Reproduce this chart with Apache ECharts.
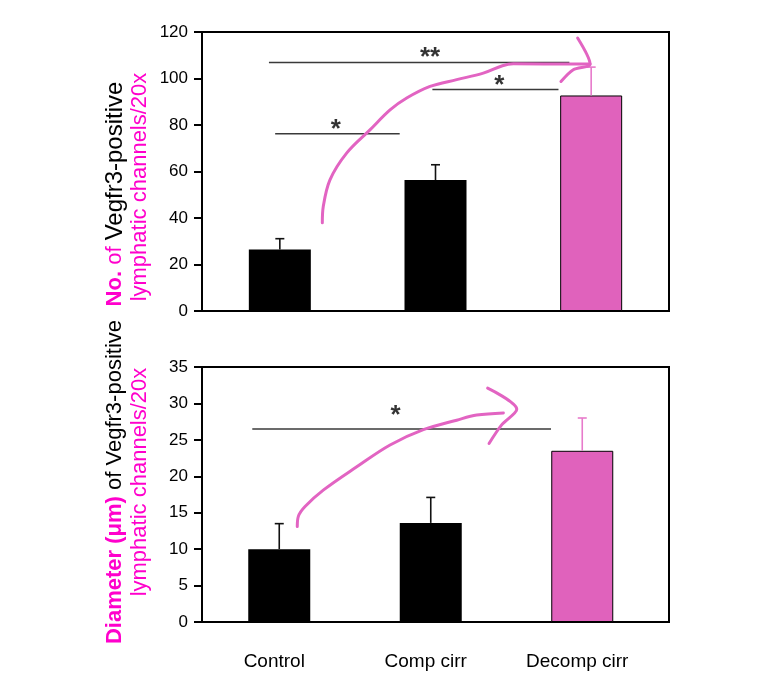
<!DOCTYPE html>
<html>
<head>
<meta charset="utf-8">
<script src="https://cdn.jsdelivr.net/npm/echarts@6/dist/echarts.min.js"></script>
<style>html,body{margin:0;padding:0;background:#fff}#c{width:771px;height:696px}</style>
</head>
<body>
<div id="c"></div>
<script>
// ---- data ----
const categories = ['Control', 'Comp cirr', 'Decomp cirr'];
const countMeans = [26.5, 56.3, 92.7];
const countErrors = [4.6, 6.6, 12.2];
const diameterMeans = [10.0, 13.6, 23.5];
const diameterErrors = [3.5, 3.5, 4.5];
const countTicks = [0, 20, 40, 60, 80, 100, 120];
const diameterTicks = [0, 5, 10, 15, 20, 25, 30, 35];

// significance annotations (annotation space: x 0..3 across the panel, y in axis units)
const countSigLevels = [106.9, 76.2, 95.3];
const countSigSpans = [[0.43, 2.36], [0.47, 1.27], [1.48, 2.29]];
const countSigMarks = ['**', '*', '*'];
const countSigMarkX = [1.465, 0.86, 1.91];
const countSigMarkY = [111.6, 80.5, 99.5];
const diameterSigLevels = [26.5];
const diameterSigSpans = [[0.323, 2.242]];
const diameterSigMarks = ['*'];
const diameterSigMarkX = [1.244];
const diameterSigMarkY = [29.1];

// hand-drawn trend arrows (annotation space)
const countTrendCurve = [[0.773, 38.0], [0.779, 44.9], [0.822, 56.4], [0.929, 67.9], [1.079, 77.9], [1.208, 86.5], [1.315, 91.6], [1.465, 96.6], [1.636, 99.5], [1.807, 102.3], [1.93, 105.5], [2.0, 106.3], [2.493, 106.2]];
const countTrendHead = [[2.413, 117.4], [2.493, 106.2], [2.385, 103.8], [2.306, 98.7]];
const diameterTrendCurve = [[0.612, 13.1], [0.619, 14.5], [0.662, 15.85], [0.779, 18.1], [0.994, 21.3], [1.208, 24.3], [1.422, 26.4], [1.636, 27.7], [1.765, 28.4], [1.936, 28.7]];
const diameterTrendHead = [[1.835, 32.1], [2.022, 29.2], [1.925, 27.05], [1.844, 24.5]];

// ---- styles ----
const FONT = 'Liberation Sans, Arial, sans-serif';
const MAGENTA = '#FF00CC';
const PINK = '#E062BC';
const ARROW = '#E264C2';
const barFills = ['#000000', '#000000', PINK];
const errColors = ['#111111', '#111111', '#E77ACB'];

const chart = echarts.init(document.getElementById('c'), null, {renderer: 'canvas'});

function barData(vals) {
  return vals.map((v, i) => ({value: v, itemStyle: {color: barFills[i], borderColor: '#000', borderWidth: i === 2 ? 1 : 0}}));
}
function errSeries(means, errs, xi, yi) {
  return {
    type: 'custom', xAxisIndex: xi, yAxisIndex: yi, z: 3,
    data: means.map((m, i) => [i, m, errs[i]]),
    renderItem: function (params, api) {
      const i = api.value(0);
      const base = api.coord([i, api.value(1)]);
      const top = api.coord([i, api.value(1) + api.value(2)]);
      const c = errColors[params.dataIndex];
      return {type: 'group', children: [
        {type: 'line', shape: {x1: base[0], y1: base[1], x2: base[0], y2: top[1]}, style: {stroke: c, lineWidth: 1.6}},
        {type: 'line', shape: {x1: base[0] - 4.5, y1: top[1], x2: base[0] + 4.5, y2: top[1]}, style: {stroke: c, lineWidth: 1.6}}
      ]};
    }
  };
}
function sigSeries(levels, spans, xi, yi) {
  return levels.map((lv, k) => ({
    type: 'line', xAxisIndex: xi, yAxisIndex: yi, symbol: 'none', z: 2, silent: true,
    data: [[spans[k][0], lv], [spans[k][1], lv]],
    lineStyle: {color: '#3a3a3a', width: 1.5}
  }));
}
function markSeries(xs, ys, marks, xi, yi) {
  return {
    type: 'scatter', xAxisIndex: xi, yAxisIndex: yi, symbolSize: 0.1, z: 4, silent: true,
    itemStyle: {color: 'rgba(0,0,0,0)'},
    data: xs.map((x, k) => ({value: [x, ys[k]], name: marks[k]})),
    label: {show: true, position: 'inside', formatter: p => p.name, color: '#000', fontSize: 26, fontWeight: 'bold', fontFamily: FONT, offset: [0, 6]}
  };
}
function arrowSeries(pts, xi, yi, smooth) {
  return {
    type: 'line', xAxisIndex: xi, yAxisIndex: yi, symbol: 'none', smooth: smooth, z: 5, silent: true,
    data: pts,
    lineStyle: {color: ARROW, width: 3, cap: 'round', join: 'round'}
  };
}
const tickLabel = {color: '#000', fontSize: 17, fontFamily: FONT, margin: 14};
const axisLineStyle = {show: true, lineStyle: {color: '#000', width: 2}};
const tickStyle = {show: true, length: 8, inside: false, lineStyle: {color: '#000', width: 2}};

const option = {
  animation: false,
  backgroundColor: '#fff',
  grid: [
    {left: 202, top: 32, width: 467, height: 279, show: true, borderColor: '#000', borderWidth: 2, backgroundColor: 'transparent'},
    {left: 202, top: 367, width: 467, height: 255, show: true, borderColor: '#000', borderWidth: 2, backgroundColor: 'transparent'},
    {left: 203.5, top: 367, width: 454.5, height: 255, show: false}
  ],
  xAxis: [
    {type: 'category', gridIndex: 0, data: categories, axisLine: {show: false}, axisTick: {show: false}, axisLabel: {show: false}},
    {type: 'value', gridIndex: 0, min: 0, max: 3, show: false},
    {type: 'value', gridIndex: 1, min: 0, max: 3, show: false},
    {type: 'category', gridIndex: 2, data: categories, axisLine: {show: false}, axisTick: {show: false},
     axisLabel: {show: true, color: '#000', fontSize: 19, fontFamily: FONT, margin: 30, padding: [0, 10, 0, 0]}}
  ],
  yAxis: [
    {type: 'value', gridIndex: 0, min: countTicks[0], max: countTicks[countTicks.length - 1], interval: countTicks[1] - countTicks[0],
     axisLine: axisLineStyle, axisTick: tickStyle, axisLabel: tickLabel, splitLine: {show: false}},
    {type: 'value', gridIndex: 1, min: diameterTicks[0], max: diameterTicks[diameterTicks.length - 1], interval: diameterTicks[1] - diameterTicks[0],
     axisLine: axisLineStyle, axisTick: tickStyle, axisLabel: tickLabel, splitLine: {show: false}},
    {type: 'value', gridIndex: 2, min: diameterTicks[0], max: diameterTicks[diameterTicks.length - 1], show: false}
  ],
  series: [
    {type: 'bar', xAxisIndex: 0, yAxisIndex: 0, barWidth: 62, data: barData(countMeans), z: 2},
    errSeries(countMeans, countErrors, 0, 0),
    ...sigSeries(countSigLevels, countSigSpans, 1, 0),
    markSeries(countSigMarkX, countSigMarkY, countSigMarks, 1, 0),
    arrowSeries(countTrendCurve, 1, 0, 0.35),
    arrowSeries(countTrendHead, 1, 0, 0.3),
    {type: 'bar', xAxisIndex: 3, yAxisIndex: 2, barWidth: 62, data: barData(diameterMeans), z: 2},
    errSeries(diameterMeans, diameterErrors, 3, 2),
    ...sigSeries(diameterSigLevels, diameterSigSpans, 2, 1),
    markSeries(diameterSigMarkX, diameterSigMarkY, diameterSigMarks, 2, 1),
    arrowSeries(diameterTrendCurve, 2, 1, 0.35),
    arrowSeries(diameterTrendHead, 2, 1, 0.3)
  ],
  graphic: [
    {type: 'text', x: 115, y: 194, rotation: Math.PI / 2,
     style: {text: '{b|No.} {m|of} {v|Vegfr3-positive}', fill: '#000', fontSize: 22, fontFamily: FONT, align: 'center', verticalAlign: 'middle',
             rich: {b: {fill: MAGENTA, fontWeight: 'bold', fontSize: 22, fontFamily: FONT},
                    m: {fill: MAGENTA, fontSize: 22, fontFamily: FONT},
                    v: {fill: '#000', fontSize: 24, fontFamily: FONT}}}},
    {type: 'text', x: 140, y: 187, rotation: Math.PI / 2,
     style: {text: 'lymphatic channels/20x', fill: MAGENTA, fontSize: 22, fontFamily: FONT, align: 'center', verticalAlign: 'middle'}},
    {type: 'text', x: 115, y: 482, rotation: Math.PI / 2,
     style: {text: '{m|Diameter (μm)} of Vegfr3-positive', fill: '#000', fontSize: 22, fontFamily: FONT, align: 'center', verticalAlign: 'middle',
             rich: {m: {fill: MAGENTA, fontWeight: 'bold', fontSize: 22, fontFamily: FONT}}}},
    {type: 'text', x: 140, y: 482, rotation: Math.PI / 2,
     style: {text: 'lymphatic channels/20x', fill: MAGENTA, fontSize: 22, fontFamily: FONT, align: 'center', verticalAlign: 'middle'}}
  ]
};
chart.setOption(option);
</script>
</body>
</html>
